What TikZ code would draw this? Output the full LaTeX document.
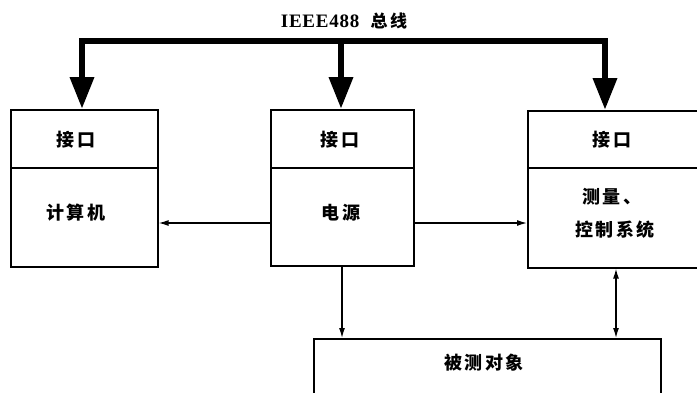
\documentclass[tikz,border=0pt]{standalone}
\usepackage{fontspec}
\setmainfont{Liberation Serif}
\newfontfamily\cjk[LetterSpace=14]{Noto Sans CJK SC}
\newfontfamily\titleserif[LetterSpace=4]{Liberation Serif}
\usetikzlibrary{arrows.meta}
\begin{document}
\begin{tikzpicture}[x=1pt,y=-1pt,
  box/.style={draw,line width=1.6pt,inner sep=0pt,anchor=north west},
  lbl/.style={font=\cjk\bfseries\fontsize{18}{22}\selectfont,align=center,inner sep=0pt},
  conn/.style={line width=1.3pt,-{Latex[length=10pt,width=6pt]}},
  biconn/.style={line width=1.3pt,{Latex[length=10pt,width=6pt]}-{Latex[length=10pt,width=6pt]}},
  busline/.style={line width=6.5pt,line cap=rect},
  bustip/.style={line width=6.5pt,-{Triangle[length=32pt,width=23pt]}}]
\useasboundingbox (0,0) rectangle (697,392);
\clip (0,0) rectangle (697,392);
% title
\node[inner sep=0pt] (title) at (344,21) {\titleserif\bfseries\fontsize{19}{22}\selectfont IEEE488\hspace{0.6em}{\cjk\bfseries\fontsize{17}{20}\selectfont 总线}};
% boxes
\node[box,minimum width=147pt,minimum height=58pt] (Li) at (10,109) {};
\node[box,minimum width=147pt,minimum height=99pt] (Lm) at (10,167) {};
\node[box,minimum width=143pt,minimum height=58pt] (Mi) at (270,109) {};
\node[box,minimum width=143pt,minimum height=98pt] (Mm) at (270,167) {};
\node[box,minimum width=180pt,minimum height=57pt] (Ri) at (527,110) {};
\node[box,minimum width=180pt,minimum height=100pt] (Rm) at (527,167) {};
\node[box,minimum width=347pt,minimum height=80pt] (B) at (313,338) {};
% labels
\node[lbl] (tLi) at (76,140) {接口};
\node[lbl] (tLm) at (76,213) {计算机};
\node[lbl] (tMi) at (340,140) {接口};
\node[lbl] (tMm) at (341,213) {电源};
\node[lbl] (tRi) at (612,140) {接口};
\node[lbl] (tRm1) at (612,197) {测量、};
\node[lbl] (tRm2) at (615,230) {控制系统};
\node[lbl] (tB) at (484,363) {被测对象};
% bus
\coordinate (bl) at (82,41);
\coordinate (bm) at (341,41);
\coordinate (br) at (605,41);
\draw[busline] (bl) -- (br);
\draw[bustip] (bl) -- (bl |- Li.north);
\draw[bustip] (bm) -- (bm |- Mi.north);
\draw[bustip] (br) -- (br |- Ri.north);
% connectors
\coordinate (ml) at (Mm.west |- 0,223);
\coordinate (mr) at (Mm.east |- 0,223);
\draw[conn] (ml) -- (ml -| Lm.east);
\draw[conn] (mr) -- (mr -| Rm.west);
\coordinate (md) at (342,0);
\draw[conn] (md |- Mm.south) -- (md |- B.north);
\coordinate (rd) at (616,0);
\draw[biconn] (rd |- Rm.south) -- (rd |- B.north);
\end{tikzpicture}
\end{document}
